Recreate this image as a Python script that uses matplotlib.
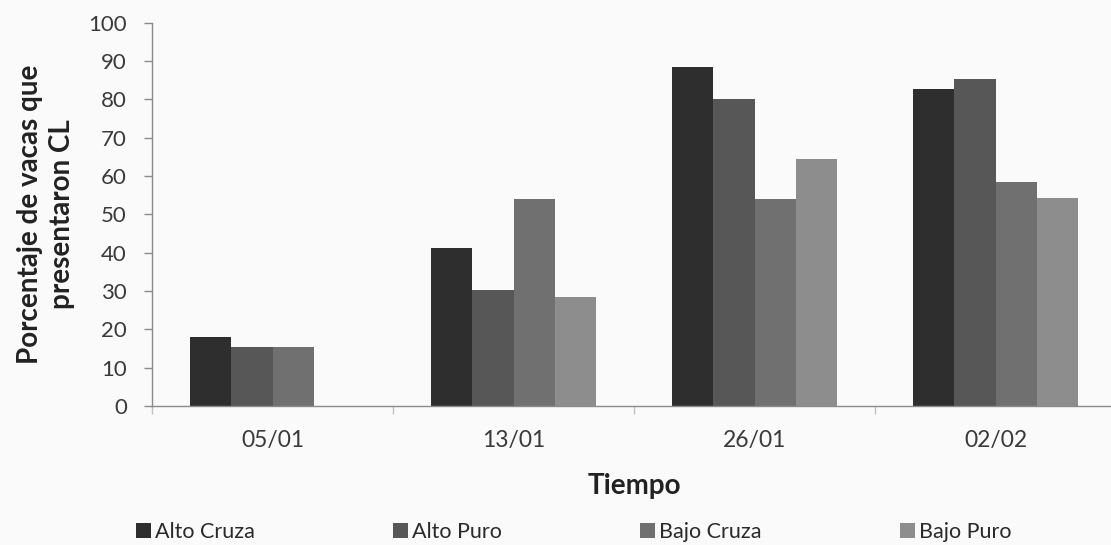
import matplotlib
matplotlib.use("Agg")
import matplotlib.pyplot as plt
import numpy as np
from matplotlib.patches import Patch

plt.rcParams['font.family'] = ['Lato', 'DejaVu Sans']

fechas = ['05/01', '13/01', '26/01', '02/02']
series = ['Alto Cruza', 'Alto Puro', 'Bajo Cruza', 'Bajo Puro']
alto_cruza = [18, 41.2, 88.4, 82.6]
alto_puro = [15.5, 30.2, 80.1, 85.3]
bajo_cruza = [15.5, 53.9, 54.0, 58.5]
bajo_puro = [0, 28.5, 64.4, 54.2]
colores = ['#2e2e2e', '#575757', '#707070', '#8d8d8d']

valores = [alto_cruza, alto_puro, bajo_cruza, bajo_puro]

fig = plt.figure(figsize=(11.11, 5.45), dpi=100, facecolor='#fafafa')
ax = fig.add_axes([152 / 1111, 1 - 406 / 545, 964 / 1111, (406 - 22.7) / 545])
ax.set_facecolor('#fafafa')

x = np.arange(len(fechas))
w = 0.171
for k, (nombre, vals, col) in enumerate(zip(series, valores, colores)):
    ax.bar(x + (k - 1.5) * w, vals, width=w, color=col, label=nombre,
           linewidth=0, zorder=2)

ax.set_xlim(-0.5, len(fechas) - 0.5)
ax.set_ylim(0, 100)
ax.set_yticks(np.arange(0, 101, 10))
ax.set_xticks(x)
ax.set_xticklabels(fechas)
ax.set_xticks(np.arange(-0.5, len(fechas), 1), minor=True)

for s in ['top', 'right']:
    ax.spines[s].set_visible(False)
for s in ['left', 'bottom']:
    ax.spines[s].set_color('#8a8a8a')
    ax.spines[s].set_linewidth(1.0)

ax.tick_params(axis='y', direction='out', length=6, width=1, color='#8a8a8a',
               labelsize=16, labelcolor='#3a3a3a', pad=12)
ax.tick_params(axis='x', which='major', length=0, labelsize=16.5,
               labelcolor='#3a3a3a', pad=17)
ax.tick_params(axis='x', which='minor', direction='out', length=6, width=1,
               color='#c0c0c0')

ax.set_xlabel('Tiempo', fontsize=20, fontweight='bold', color='#222222')
ax.xaxis.set_label_coords(0.5, -0.176)
ax.set_ylabel('Porcentaje de vacas que\npresentaron CL', fontsize=20,
              fontweight='bold', color='#222222', linespacing=1.3)
ax.yaxis.set_label_coords(-0.080, 0.5)

handles = [Patch(facecolor=c, edgecolor='none') for c in colores]
fig.legend(handles, series, loc='center left', bbox_to_anchor=(136 / 1111, 1 - 532 / 545),
           ncol=4, frameon=False, fontsize=15.5, handlelength=0.7, handleheight=0.7,
           handletextpad=0.2, columnspacing=6.4, borderaxespad=0, borderpad=0,
           labelcolor='#2a2a2a')

fig.savefig('out.png', dpi=100, facecolor=fig.get_facecolor())
